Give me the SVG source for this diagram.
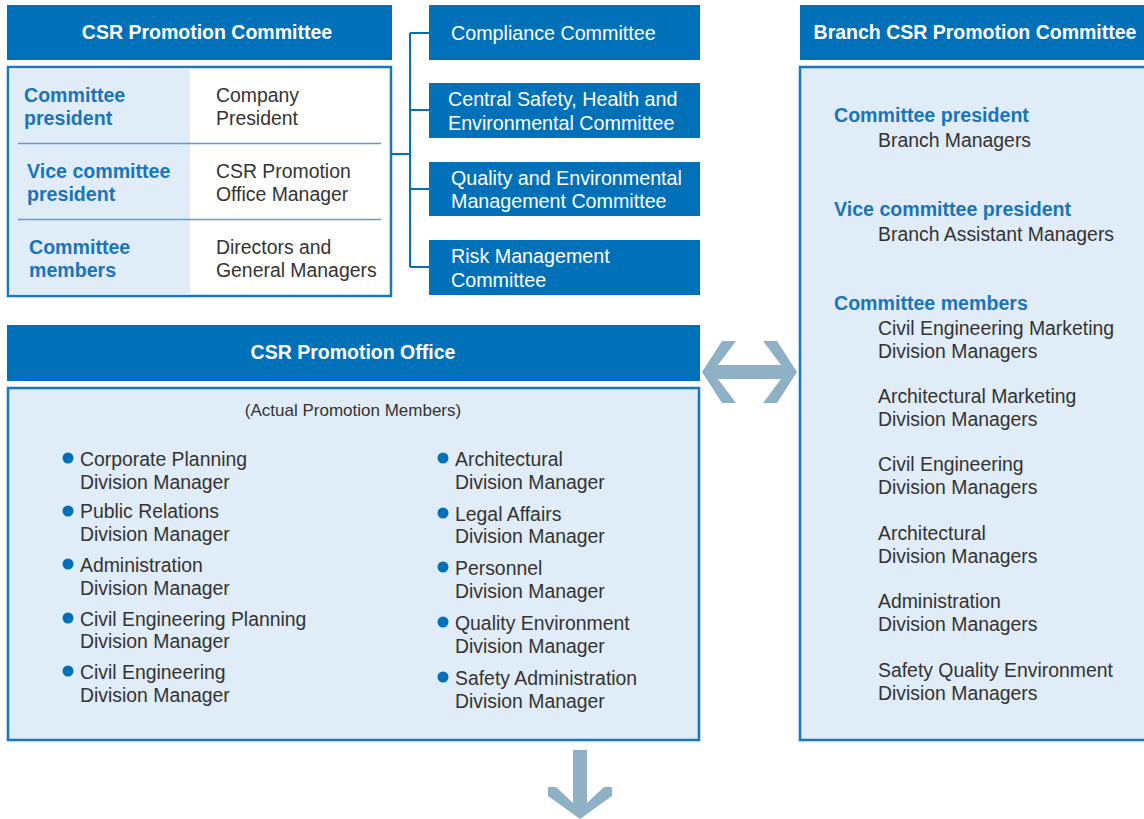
<svg xmlns="http://www.w3.org/2000/svg" width="1144" height="819" viewBox="0 0 1144 819">
<style>
.hdr{fill:#0071b8}
.box{fill:#e0ecf8;stroke:#1676bf;stroke-width:2.5}
.ht{font-family:"Liberation Sans",Arial,sans-serif;font-weight:bold;font-size:19.5px;fill:#fff;text-anchor:middle}
.t{font-family:"Liberation Sans",Arial,sans-serif;font-size:19.4px;fill:#333}
.tw{font-family:"Liberation Sans",Arial,sans-serif;font-size:19.7px;fill:#fff}
.b{font-family:"Liberation Sans",Arial,sans-serif;font-weight:bold;font-size:19.6px;fill:#1a74ba}
.sm{font-family:"Liberation Sans",Arial,sans-serif;font-size:17px;fill:#333;text-anchor:middle}
.dot{fill:#0071b8}
.arr{fill:#8fb1c6}
.conn{stroke:#0071b8;stroke-width:2;fill:none}
</style>

<g id="csr-committee">
  <rect class="hdr" x="7" y="5" width="385" height="55"/>
  <text class="ht" x="207" y="39">CSR Promotion Committee</text>
  <rect x="8" y="67" width="383" height="229" fill="#fff" stroke="#1676bf" stroke-width="2.5"/>
  <rect x="9.5" y="68.5" width="180.5" height="226" fill="#e0ecf8"/>
  <line x1="18" y1="143.5" x2="381" y2="143.5" stroke="#5b9bd5" stroke-width="1.5"/>
  <line x1="18" y1="219.5" x2="381" y2="219.5" stroke="#5b9bd5" stroke-width="1.5"/>
  <text class="b" x="24" y="102">Committee</text>
  <text class="b" x="24" y="125">president</text>
  <text class="t" x="216" y="102">Company</text>
  <text class="t" x="216" y="125">President</text>
  <text class="b" x="27" y="178">Vice committee</text>
  <text class="b" x="27" y="201">president</text>
  <text class="t" x="216" y="178">CSR Promotion</text>
  <text class="t" x="216" y="201">Office Manager</text>
  <text class="b" x="29" y="254">Committee</text>
  <text class="b" x="29" y="277">members</text>
  <text class="t" x="216" y="254">Directors and</text>
  <text class="t" x="216" y="277">General Managers</text>
</g>

<g id="compliance">
  <rect class="hdr" x="429" y="5" width="271" height="55"/>
  <text class="tw" x="451" y="40">Compliance Committee</text>
</g>
<g id="safety-health">
  <rect class="hdr" x="429" y="83" width="271" height="55"/>
  <text class="tw" x="448" y="106">Central Safety, Health and</text>
  <text class="tw" x="448" y="130">Environmental Committee</text>
</g>
<g id="quality-env">
  <rect class="hdr" x="429" y="162" width="271" height="54"/>
  <text class="tw" x="451" y="185">Quality and Environmental</text>
  <text class="tw" x="451" y="208">Management Committee</text>
</g>
<g id="risk">
  <rect class="hdr" x="429" y="240" width="271" height="55"/>
  <text class="tw" x="451" y="263">Risk Management</text>
  <text class="tw" x="451" y="287">Committee</text>
</g>

<g id="branch-committee">
  <rect class="hdr" x="800" y="5" width="344" height="55"/>
  <text class="ht" x="975" y="39">Branch CSR Promotion Committee</text>
  <rect class="box" x="800" y="67" width="346" height="673"/>
  <text class="b" x="834" y="122">Committee president</text>
  <text class="t" x="878" y="147">Branch Managers</text>
  <text class="b" x="834" y="216">Vice committee president</text>
  <text class="t" x="878" y="241">Branch Assistant Managers</text>
  <text class="b" x="834" y="310">Committee members</text>
  <text class="t" x="878" y="335">Civil Engineering Marketing</text>
  <text class="t" x="878" y="358">Division Managers</text>
  <text class="t" x="878" y="403">Architectural Marketing</text>
  <text class="t" x="878" y="426">Division Managers</text>
  <text class="t" x="878" y="471">Civil Engineering</text>
  <text class="t" x="878" y="494">Division Managers</text>
  <text class="t" x="878" y="540">Architectural</text>
  <text class="t" x="878" y="563">Division Managers</text>
  <text class="t" x="878" y="608">Administration</text>
  <text class="t" x="878" y="631">Division Managers</text>
  <text class="t" x="878" y="677">Safety Quality Environment</text>
  <text class="t" x="878" y="700">Division Managers</text>
</g>

<g id="csr-office">
  <rect class="hdr" x="7" y="325" width="693" height="56"/>
  <text class="ht" x="353" y="359">CSR Promotion Office</text>
  <rect class="box" x="8" y="388" width="691" height="352"/>
  <text class="sm" x="353" y="416">(Actual Promotion Members)</text>
  <circle class="dot" cx="68" cy="458" r="5.5"/>
  <text class="t" x="80" y="466">Corporate Planning</text>
  <text class="t" x="80" y="489">Division Manager</text>
  <circle class="dot" cx="68" cy="511" r="5.5"/>
  <text class="t" x="80" y="518">Public Relations</text>
  <text class="t" x="80" y="541">Division Manager</text>
  <circle class="dot" cx="68" cy="564" r="5.5"/>
  <text class="t" x="80" y="572">Administration</text>
  <text class="t" x="80" y="595">Division Manager</text>
  <circle class="dot" cx="68" cy="618" r="5.5"/>
  <text class="t" x="80" y="626">Civil Engineering Planning</text>
  <text class="t" x="80" y="648">Division Manager</text>
  <circle class="dot" cx="68" cy="671" r="5.5"/>
  <text class="t" x="80" y="679">Civil Engineering</text>
  <text class="t" x="80" y="702">Division Manager</text>

  <circle class="dot" cx="443" cy="458" r="5.5"/>
  <text class="t" x="455" y="466">Architectural</text>
  <text class="t" x="455" y="489">Division Manager</text>
  <circle class="dot" cx="443" cy="513" r="5.5"/>
  <text class="t" x="455" y="521">Legal Affairs</text>
  <text class="t" x="455" y="543">Division Manager</text>
  <circle class="dot" cx="443" cy="567" r="5.5"/>
  <text class="t" x="455" y="575">Personnel</text>
  <text class="t" x="455" y="598">Division Manager</text>
  <circle class="dot" cx="443" cy="622" r="5.5"/>
  <text class="t" x="455" y="630">Quality Environment</text>
  <text class="t" x="455" y="653">Division Manager</text>
  <circle class="dot" cx="443" cy="677" r="5.5"/>
  <text class="t" x="455" y="685">Safety Administration</text>
  <text class="t" x="455" y="708">Division Manager</text>
</g>

<g id="connectors">
  <path class="conn" d="M391 154 H410 M410 33 V267 M410 33 H429 M410 110 H429 M410 189 H429 M410 267 H429"/>
  <polygon class="arr" points="702,372 722,341 736,341 718,365 781,365 763,341 777,341 797,372 777,403 763,403 781,379 718,379 736,403 722,403"/>
  <polygon class="arr" points="548,787 556,787 573,803 573,750 587,750 587,803 604,787 612,787 612,796 580,819 548,796"/>
</g>
</svg>
